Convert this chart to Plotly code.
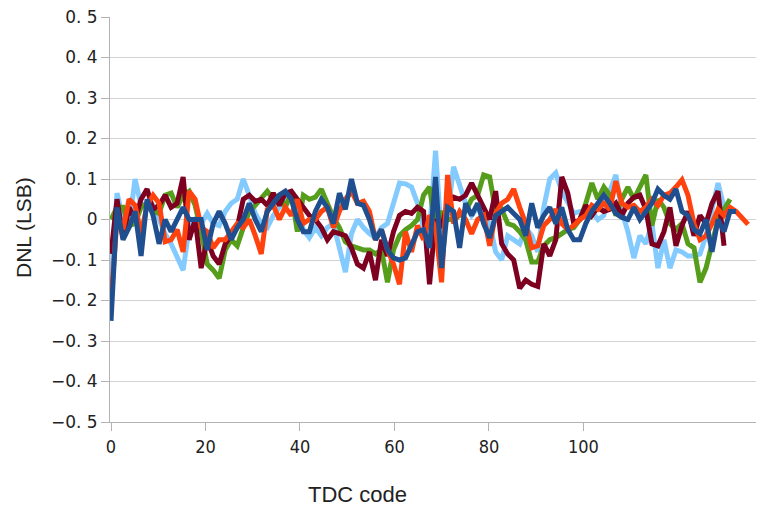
import plotly.graph_objects as go

# ---- data (DNL per TDC code) ----
navy = [-0.25, 0.03, -0.05, -0.02, 0.02, -0.09, 0.05, 0.01, -0.06, 0.0,
        -0.03, 0.0, 0.03, 0.0, 0.0, 0.0, -0.075, -0.01, 0.02, -0.01,
        -0.05, -0.02, 0.0, 0.04, 0.0, -0.03, 0.02, 0.04, 0.06, 0.07,
        0.05, 0.0, -0.03, -0.03, 0.02, 0.05, 0.03, -0.01, 0.065, 0.025,
        0.1, 0.04, 0.035, 0.0, -0.05, -0.025, -0.075, -0.095, -0.1, -0.095,
        -0.065, -0.03, -0.025, -0.07, 0.105, -0.12, 0.03, 0.02, -0.07, 0.04,
        0.01, 0.04, -0.01, -0.045, 0.01, 0.02, 0.03, 0.015, 0.0, -0.04,
        0.04, -0.02, 0.01, 0.03, -0.01, 0.03, -0.025, -0.05, -0.05, -0.01,
        0.02, 0.04, 0.06, 0.04, 0.015, 0.005, 0.0, 0.03, 0.0, 0.02,
        0.04, 0.075, 0.06, 0.05, 0.075, 0.02, 0.01, -0.025, -0.035, 0.0,
        -0.08, 0.0, -0.03, 0.02, 0.02]

maroon = [-0.085, 0.05, -0.045, 0.03, 0.0, 0.05, 0.075, 0.025, 0.035, 0.06,
          0.03, 0.04, 0.105, -0.05, 0.0, -0.12, -0.05, -0.09, -0.11, -0.06,
          -0.04, -0.02, 0.05, 0.06, 0.045, 0.05, 0.035, 0.065, 0.035, 0.065,
          0.07, 0.05, 0.03, 0.01, 0.0, -0.02, -0.05, -0.03, -0.035, -0.04,
          -0.07, -0.11, -0.12, -0.08, -0.15, -0.05, -0.09, -0.03, 0.01, 0.02,
          0.015, 0.03, 0.02, -0.16, 0.0, -0.02, 0.04, 0.055, 0.05, 0.06,
          0.09, 0.06, 0.03, 0.0, 0.07, -0.06, -0.085, -0.1, -0.17, -0.15,
          -0.16, -0.165, -0.06, -0.09, -0.05, 0.105, 0.065, -0.01, 0.0, 0.035,
          0.01, 0.03, 0.02, 0.025, 0.04, 0.01, 0.04, 0.055, 0.06, 0.025,
          -0.06, -0.065, -0.03, 0.03, -0.065, -0.015, 0.02, -0.04, 0.01, -0.01,
          0.04, 0.07, -0.065]

red = [-0.2, 0.0, -0.025, 0.05, 0.035, -0.035, 0.035, 0.06, 0.04, -0.055,
       -0.05, -0.025, -0.08, 0.07, 0.05, -0.02, -0.03, -0.07, -0.05, -0.05,
       -0.03, -0.01, -0.02, 0.0, -0.04, -0.085, 0.025, 0.035, 0.0, 0.03,
       0.01, 0.05, -0.01, 0.0, 0.0, 0.02, 0.03, -0.02, 0.02, 0.05,
       0.07, 0.04, 0.045, 0.02, -0.05, -0.025, -0.075, -0.11, -0.16, -0.03,
       -0.08, -0.015, -0.05, 0.01, -0.02, -0.155, 0.11, -0.01, 0.02, 0.0,
       -0.035, 0.0, 0.01, -0.065, 0.015, 0.04, 0.05, 0.075, 0.03, -0.01,
       -0.07, -0.065, -0.015, 0.0, 0.025, -0.01, -0.025, -0.015, 0.0, 0.01,
       0.035, 0.025, 0.04, 0.025, 0.095, 0.04, 0.03, 0.035, 0.02, 0.03,
       0.05, 0.035, 0.06, 0.065, 0.08, 0.098, 0.06, -0.01, -0.05, -0.04,
       -0.01, 0.025, 0.01, 0.03, 0.02, 0.005, -0.012]

green = [0.0, 0.03, 0.03, -0.015, -0.01, 0.03, 0.04, 0.02, 0.015, 0.06,
         0.065, 0.03, 0.06, 0.07, 0.035, -0.03, -0.11, -0.125, -0.145, -0.075,
         -0.05, -0.065, -0.02, 0.02, 0.035, 0.055, 0.07, 0.05, 0.06, 0.03,
         0.065, -0.03, 0.06, 0.05, 0.055, 0.075, 0.04, 0.005, -0.02, -0.055,
         -0.065, -0.07, -0.075, -0.075, -0.085, -0.075, -0.155, -0.075, -0.04, -0.025,
         -0.015, 0.0, 0.06, 0.08, -0.02, 0.02, 0.0, 0.0, 0.01, 0.02,
         0.05, 0.06, 0.11, 0.105, 0.02, 0.025, -0.01, -0.015, -0.03, -0.05,
         -0.105, -0.105, -0.065, -0.05, -0.045, -0.035, -0.025, -0.02, 0.0, 0.04,
         0.09, 0.05, 0.08, 0.06, 0.01, 0.05, 0.08, 0.05, 0.08, 0.11,
         -0.015, 0.05, 0.03, -0.01, -0.025, -0.01, -0.06, -0.07, -0.155, -0.12,
         -0.06, 0.0, 0.025, 0.05]

light_blue = [-0.16, 0.065, 0.0, -0.015, 0.1, 0.035, 0.04, 0.035, 0.0, -0.035,
              -0.06, -0.09, -0.125, -0.02, 0.0, -0.01, 0.015, -0.01, -0.015, 0.02,
              0.04, 0.05, 0.1, 0.06, 0.015, -0.01, -0.02, 0.01, 0.03, 0.05,
              0.06, 0.03, -0.025, -0.045, -0.02, -0.04, -0.02, -0.01, -0.07, -0.13,
              -0.035, 0.0, -0.02, -0.035, -0.045, -0.02, -0.01, 0.04, 0.09, 0.088,
              0.08, 0.04, -0.02, -0.03, 0.17, -0.05, 0.01, 0.13, 0.08, 0.04,
              0.01, 0.03, 0.0, -0.01, -0.08, -0.1, -0.04, -0.05, -0.06, -0.02,
              -0.04, -0.08, 0.03, 0.1, 0.115, 0.07, 0.04, 0.015, 0.02, 0.02,
              0.02, 0.0, 0.01, 0.07, 0.11, 0.02, -0.03, -0.095, -0.04, -0.06,
              -0.01, -0.12, -0.05, -0.12, -0.075, -0.08, -0.09, -0.09, -0.085, -0.04,
              0.03, 0.09, 0.03]

x_tick_labels = [0, 20, 40, 60, 80, 100]
y_tick_values = [-0.5, -0.4, -0.3, -0.2, -0.1, 0.0, 0.1, 0.2, 0.3, 0.4, 0.5]

# axis-label scale of the original chart (labels are spaced 15.72 codes apart)
LABEL_SCALE = 0.786


def y_label(v):
    if abs(v) < 1e-9:
        return "0"
    s = f"{abs(v):.1f}".replace(".", ". ")
    return ("\u2212" if v < 0 else "") + s


series = [
    ("light blue", light_blue, "#83caff"),
    ("green", green, "#579d1c"),
    ("maroon", maroon, "#7e0021"),
    ("red", red, "#ff420e"),
    ("navy", navy, "#1f4f8f"),
]

fig = go.Figure()
for name, vals, col in series:
    fig.add_trace(go.Scatter(
        x=list(range(len(vals))), y=vals, mode="lines", name=name,
        line=dict(color=col, width=5), showlegend=False,
    ))

# the page body has an 8 px margin, so the figure sits 8 px right/down
fig.update_layout(
    width=764, height=508,
    margin=dict(l=102, r=8, t=9, b=94),
    paper_bgcolor="white", plot_bgcolor="white",
    xaxis=dict(
        automargin=False,
        range=[-0.17, 108.65], showgrid=False, zeroline=False,
        showline=True, linecolor="#b3b3b3", linewidth=1,
        tickmode="array", tickvals=[v * LABEL_SCALE for v in x_tick_labels],
        ticktext=[str(v) for v in x_tick_labels],
        ticks="outside", ticklen=8, tickcolor="#b3b3b3",
        tickfont=dict(family="Liberation Sans Narrow, DejaVu Sans Condensed, Liberation Sans", size=18, color="#222"),
        ticklabelstandoff=0,
    ),
    yaxis=dict(
        automargin=False,
        range=[-0.5, 0.5], showgrid=True, gridcolor="#d3d3d3", gridwidth=1,
        zeroline=False, showline=True, linecolor="#b3b3b3", linewidth=1,
        tickmode="array", tickvals=y_tick_values,
        ticktext=[y_label(v) for v in y_tick_values],
        ticks="outside", ticklen=8, tickcolor="#b3b3b3",
        tickfont=dict(family="DejaVu Sans", size=17, color="#222"),
        ticklabelstandoff=0, ticklabeloverflow="allow",
    ),
    annotations=[
        dict(text="TDC code", xref="paper", yref="paper", x=(357 - 110) / 654,
             y=-(494 - 422) / 405, xanchor="center", yanchor="middle", showarrow=False,
             font=dict(family="Liberation Sans", size=22, color="#222")),
        dict(text="DNL (LSB)", xref="paper", yref="paper", x=-(110 - 23) / 654,
             y=(422 - 228) / 405, xanchor="center", yanchor="middle", showarrow=False,
             textangle=-90,
             font=dict(family="Liberation Sans", size=21, color="#222")),
    ],
)

fig.write_html("out.html")
